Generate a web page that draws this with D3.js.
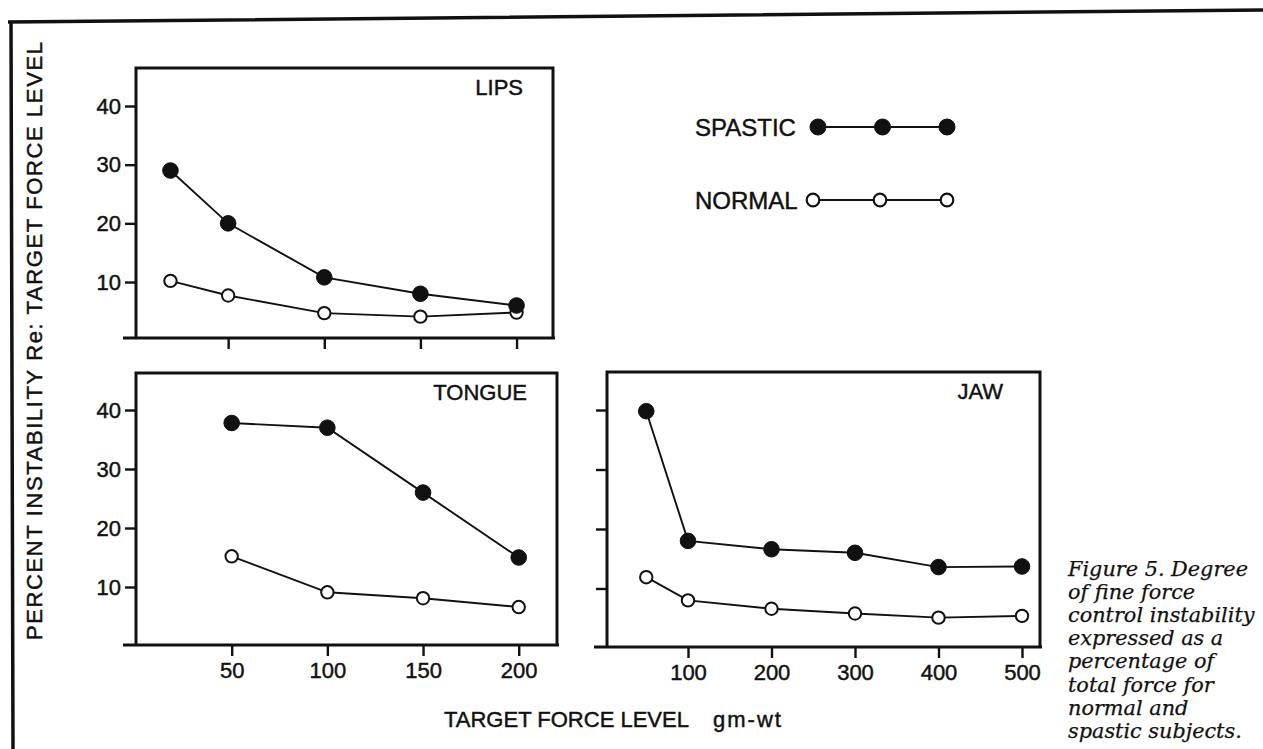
<!DOCTYPE html>
<html>
<head>
<meta charset="utf-8">
<script src="https://cdn.jsdelivr.net/npm/d3@7"></script>
<style>
  body { margin: 0; background: #fff; }
  svg { display: block; }
  text { font-family: "Liberation Sans", Arial, sans-serif; fill: #111; stroke: #111; stroke-width: 0.45px; }
  .caption text { font-family: "DejaVu Serif", serif; font-style: italic; stroke-width: 0.25px; }
</style>
</head>
<body>
<svg id="chart" width="1263" height="749"></svg>
<script>
"use strict";

// target force levels (gm-wt) and percent instability
const lipsForce = [20, 50, 100, 150, 200];
const lipsSpastic = [29, 20, 10.8, 8, 6];
const lipsNormal = [10.2, 7.7, 4.7, 4.1, 4.8];

const tongueForce = [50, 100, 150, 200];
const tongueSpastic = [37.8, 37, 26, 15];
const tongueNormal = [15.2, 9.1, 8.1, 6.6];

const jawForce = [50, 100, 200, 300, 400, 500];
const jawSpastic = [39.8, 18, 16.6, 16, 13.6, 13.7];
const jawNormal = [11.9, 8, 6.6, 5.8, 5.1, 5.4];

const yTicks = [10, 20, 30, 40];
const smallForceTicks = [50, 100, 150, 200];
const jawForceTicks = [100, 200, 300, 400, 500];

const legendLabels = ["SPASTIC", "NORMAL"];
const captionLines = ["Figure 5. Degree", "of fine force", "control instability",
  "expressed as a", "percentage of", "total force for", "normal and", "spastic subjects."];

const ink = "#111";

const panels = [
  {title: "LIPS", force: lipsForce, spastic: lipsSpastic, normal: lipsNormal,
   xDomain: [0, 220], xRange: [132, 555], yRange: [340.7, 106],
   box: {l: 136, r: 553, t: 68, b: 338}, xTicks: smallForceTicks, xLabels: false, yLabels: true},
  {title: "TONGUE", force: tongueForce, spastic: tongueSpastic, normal: tongueNormal,
   xDomain: [0, 220], xRange: [136, 557], yRange: [646, 410],
   box: {l: 136, r: 557, t: 373, b: 645}, xTicks: smallForceTicks, xLabels: true, yLabels: true},
  {title: "JAW", force: jawForce, spastic: jawSpastic, normal: jawNormal,
   xDomain: [0, 520], xRange: [604.5, 1038.7], yRange: [648, 410],
   box: {l: 607, r: 1040, t: 372, b: 647}, xTicks: jawForceTicks, xLabels: true, yLabels: false}
];

const svg = d3.select("#chart");

// page frame (scanned page edge, slightly skewed)
svg.append("path")
  .attr("d", "M8,22L1263,10M11,22L13,749")
  .attr("fill", "none").attr("stroke", ink).attr("stroke-width", 3.5);

function drawPanel(p) {
  const x = d3.scaleLinear().domain(p.xDomain).range(p.xRange);
  const y = d3.scaleLinear().domain([0, 40]).range(p.yRange);
  const g = svg.append("g");
  const b = p.box;

  // box: left, top, right and a bottom rule that runs a bit past the left edge
  g.append("path")
    .attr("d", `M${b.l},${b.b}V${b.t}H${b.r}V${b.b}M${b.l - 13},${b.b}H${b.r + 2}`)
    .attr("fill", "none").attr("stroke", ink).attr("stroke-width", 3);

  const yAxis = d3.axisLeft(y).tickValues(yTicks).tickSize(11).tickPadding(4);
  if (!p.yLabels) yAxis.tickFormat("");
  const ya = g.append("g").attr("transform", `translate(${b.l},0)`).call(yAxis);

  const xAxis = d3.axisBottom(x).tickValues(p.xTicks).tickSize(11).tickPadding(6);
  if (!p.xLabels) xAxis.tickFormat("");
  const xa = g.append("g").attr("transform", `translate(0,${b.b})`).call(xAxis);

  [ya, xa].forEach(a => {
    a.select(".domain").remove();
    a.selectAll("line").attr("stroke", ink).attr("stroke-width", 2.4);
    a.selectAll("text").attr("font-size", 22).attr("fill", ink)
      .attr("font-family", "'Liberation Sans', Arial, sans-serif");
  });

  g.append("text")
    .attr("x", b.r - (p.title === "JAW" ? 37 : 30))
    .attr("y", b.t + 27)
    .attr("text-anchor", "end")
    .attr("font-size", 22)
    .text(p.title);

  const line = d3.line().x(d => x(d[0])).y(d => y(d[1]));
  const series = [
    {vals: p.normal, filled: false},
    {vals: p.spastic, filled: true}
  ];
  series.forEach(s => {
    const pts = p.force.map((f, i) => [f, s.vals[i]]);
    g.append("path").attr("d", line(pts))
      .attr("fill", "none").attr("stroke", ink).attr("stroke-width", 1.9);
    g.selectAll(null).data(pts).join("circle")
      .attr("cx", d => x(d[0])).attr("cy", d => y(d[1]))
      .attr("r", s.filled ? 7.8 : 6.2)
      .attr("fill", s.filled ? ink : "#fff")
      .attr("stroke", ink).attr("stroke-width", s.filled ? 1 : 2);
  });
}

panels.forEach(drawPanel);

// legend
const legendY = [127, 200];
const legendX = [
  d3.scaleLinear().domain([0, 2]).range([818, 947]),
  d3.scaleLinear().domain([0, 2]).range([813, 947])
];
legendLabels.forEach((lab, k) => {
  const g = svg.append("g");
  g.append("text").attr("x", 695).attr("y", legendY[k] + 8.5)
    .attr("font-size", 24).text(lab);
  g.append("line")
    .attr("x1", legendX[k](0)).attr("x2", legendX[k](2))
    .attr("y1", legendY[k]).attr("y2", legendY[k])
    .attr("stroke", ink).attr("stroke-width", 2);
  g.selectAll("circle").data([0, 1, 2]).join("circle")
    .attr("cx", d => legendX[k](d)).attr("cy", legendY[k])
    .attr("r", k === 0 ? 8 : 6.3)
    .attr("fill", k === 0 ? ink : "#fff")
    .attr("stroke", ink).attr("stroke-width", k === 0 ? 1 : 2.2);
});

// axis titles
svg.append("text")
  .attr("transform", "translate(42,341) rotate(-90)")
  .attr("text-anchor", "middle")
  .attr("font-size", 22)
  .attr("textLength", 598).attr("lengthAdjust", "spacing")
  .text("PERCENT INSTABILITY  Re: TARGET FORCE LEVEL");

const xt = svg.append("text").attr("y", 727).attr("font-size", 22);
xt.append("tspan").attr("x", 444).text("TARGET FORCE LEVEL");
xt.append("tspan").attr("x", 713).attr("letter-spacing", 2).text("gm-wt");

// caption
svg.append("g").attr("class", "caption")
  .selectAll("text").data(captionLines).join("text")
  .attr("x", 1068)
  .attr("y", (d, i) => 576 + i * 23.1)
  .attr("font-size", 20.8)
  .attr("fill", ink)
  .text(d => d);
</script>
</body>
</html>
